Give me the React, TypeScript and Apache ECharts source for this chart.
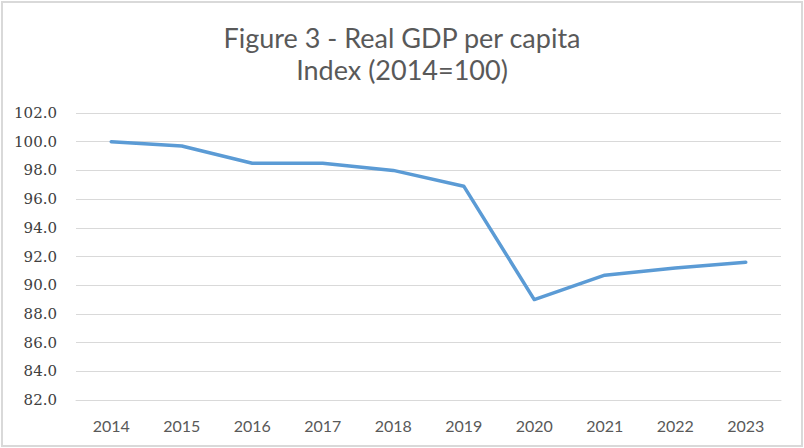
import React, { useEffect, useRef } from "react";
import * as echarts from "echarts";

const years = ["2014", "2015", "2016", "2017", "2018", "2019", "2020", "2021", "2022", "2023"];
const gdpIndex = [100.0, 99.7, 98.5, 98.5, 98.0, 96.9, 89.0, 90.7, 91.2, 91.6];
const titleText = "Figure 3 - Real GDP per capita\nIndex (2014=100)";

export default function App() {
  const ref = useRef<HTMLDivElement>(null);
  useEffect(() => {
    document.body.style.margin = "0";
    const chart = echarts.init(ref.current!, null, { renderer: "svg" });
    chart.setOption({
      animation: false,
      backgroundColor: "#ffffff",
      title: {
        text: titleText,
        left: "center",
        top: 16,
        textStyle: {
          fontFamily: "Lato",
          fontWeight: "normal",
          fontSize: 27,
          color: "#595959",
          lineHeight: 32,
        },
      },
      grid: { left: 76, right: 23, top: 113, bottom: 48 },
      xAxis: {
        type: "category",
        data: years,
        boundaryGap: true,
        axisLine: { show: true, lineStyle: { color: "#D9D9D9", width: 1 } },
        axisTick: { show: false },
        axisLabel: {
          color: "#595959",
          fontSize: 16,
          fontFamily: "Lato",
          margin: 17,
        },
      },
      yAxis: {
        type: "value",
        min: 82,
        max: 102,
        interval: 2,
        axisLine: { show: false },
        axisTick: { show: false },
        splitLine: { lineStyle: { color: "#D9D9D9", width: 1 } },
        axisLabel: {
          color: "#404040",
          fontSize: 15,
          fontFamily: "DejaVu Serif",
          margin: 19,
          formatter: (v: number) => v.toFixed(1),
        },
      },
      series: [
        {
          type: "line",
          data: gdpIndex,
          symbol: "none",
          lineStyle: { color: "#5B9BD5", width: 3.5, cap: "round", join: "round" },
        },
      ],
    });
    return () => chart.dispose();
  }, []);
  return (
    <div style={{ position: "fixed", left: 0, top: 0, width: 804, height: 448 }}>
      <div ref={ref} style={{ position: "absolute", left: 0, top: 0, width: 804, height: 448 }} />
      <div
        style={{
          position: "absolute",
          left: 1,
          top: 1,
          width: 802,
          height: 446,
          boxSizing: "border-box",
          border: "2px solid #D9D9D9",
          pointerEvents: "none",
        }}
      />
    </div>
  );
}
